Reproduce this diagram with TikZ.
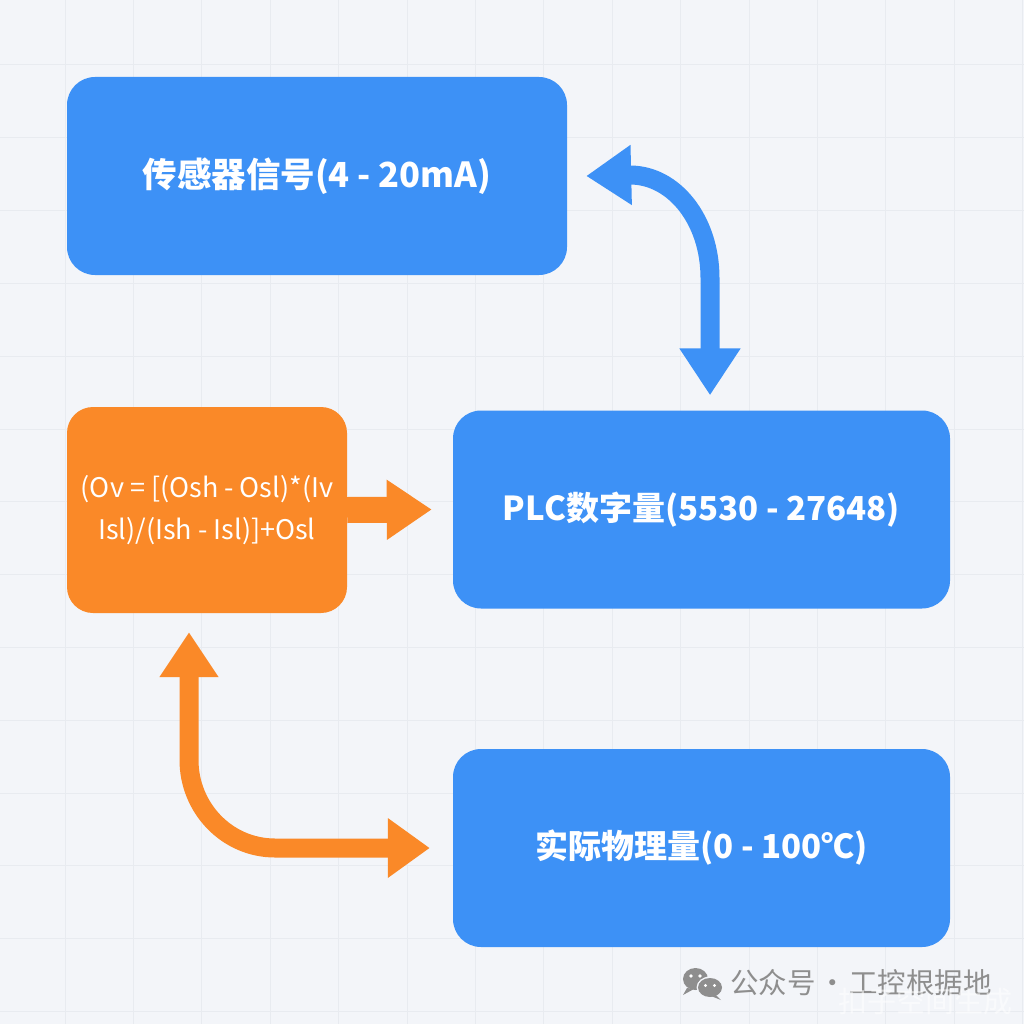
\documentclass[tikz,border=0pt]{standalone}
\usepackage{fontspec}
\setmainfont{Noto Sans CJK SC}
\usetikzlibrary{arrows.meta,calc}
\definecolor{bg}{HTML}{F3F5F9}
\definecolor{gridc}{HTML}{E8EBF0}
\definecolor{boxblue}{HTML}{3D91F6}
\definecolor{boxorange}{HTML}{FA8928}
\definecolor{wm}{HTML}{8E8E8E}
\begin{document}
\begin{tikzpicture}[x=1pt,y=-1pt,
  bluebox/.style={fill=boxblue, rounded corners=28pt, minimum width=500pt, minimum height=198pt,
    text=white, font=\fontsize{33}{40}\selectfont\bfseries, inner sep=0pt},
  orangebox/.style={fill=boxorange, rounded corners=26pt, minimum width=280pt, minimum height=206pt,
    text=white, font=\fontsize{27}{42}\selectfont, inner sep=0pt, align=center},
  bluearrow/.style={draw=boxblue, line width=19pt, {Triangle[length=45pt,width=57pt]}-{Triangle[length=47pt,width=58pt]}},
  orangearrow/.style={draw=boxorange, line width=26pt, -{Triangle[length=45pt,width=57pt]}},
  orangearrowL/.style={draw=boxorange, line width=19pt, {Triangle[length=45pt,width=56pt]}-{Triangle[length=42pt,width=57pt]}},
  wmtext/.style={text=wm, font=\fontsize{28.5}{30}\selectfont, inner sep=0pt},
  wmfaint/.style={text=white, opacity=0.55, font=\fontsize{29}{32}\selectfont, inner sep=0pt}
]
\useasboundingbox (0,0) rectangle (1024,1024);
\fill[bg] (0,0) rectangle (1024,1024);
\foreach \i in {0,...,15} \draw[gridc, line width=1pt] ({-3.3+68.4*\i},0) -- ++(0,1024);
\foreach \j in {0,...,14} \draw[gridc, line width=1pt] (0,{-7.8+72.8*\j}) -- ++(1024,0);

\node[bluebox, font=\fontsize{34.5}{40}\selectfont\bfseries] (b1) at (317,176) {传感器信号(4 - 20mA)};
\node[bluebox, minimum width=497pt] (b2) at (701.5,509.5) {PLC数字量(5530 - 27648)};
\node[orangebox] (b3) at (207,510) {(Ov = [(Osh - Osl)*(Iv\\Isl)/(Ish - Isl)]+Osl};
\node[bluebox, minimum width=497pt] (b4) at (701.5,848) {实际物理量(0 - 100℃)};

\draw[bluearrow] ([xshift=19pt]b1.east) -- (630,175) .. controls (674,175) and (710,220) .. (710,278) -- ([xshift=8.5pt,yshift=15pt]b2.north);
\draw[orangearrow] (b3.east) -- ([xshift=-21pt]b2.west);
\draw[orangearrowL] ([xshift=-18pt,yshift=-19pt]b3.south) -- (189,760) .. controls (189,808) and (227,848) .. (275,848) -- ([xshift=-23pt]b4.west);

% watermark icon
\fill[wm] (695.5,979) ellipse [x radius=12.5, y radius=11];
\fill[wm] (687,988) -- (683,995) -- (694,989) -- cycle;
\fill[bg] (710,987.5) ellipse [x radius=13.5, y radius=11];
\fill[wm] (710,987.5) ellipse [x radius=12, y radius=9.5];
\fill[wm] (716,995) -- (721,1000) -- (711,996) -- cycle;
\fill[white] (691,976) circle (1.8) (700,976) circle (1.8) (705.5,985.5) circle (1.7) (714.5,985.5) circle (1.7);
\node[wmtext, anchor=west] (wm1) at (730,983) {公众号\hspace{2.5pt}·\hspace{2.5pt}工控根据地};
\node[wmfaint, anchor=west] (wm2) at (838,1001) {扣子空间生成};
\end{tikzpicture}
\end{document}
